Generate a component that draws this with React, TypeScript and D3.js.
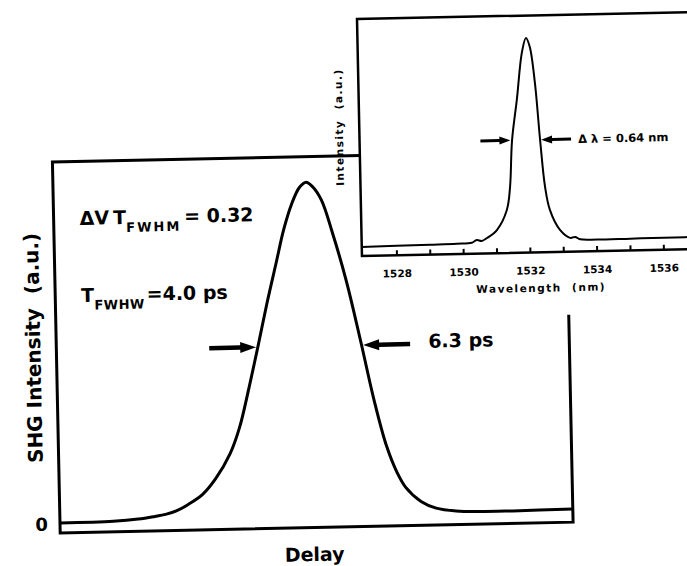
import React, { useEffect, useRef } from "react";
import * as d3 from "d3";

// autocorrelation trace: delay (ps) vs normalised SHG intensity
const delayPs = [-15.2, -12, -10.5, -9.6, -8.8, -8.2, -7.5, -6.6, -5.8, -4.9, -4.3, -3.7, -3.1, -2.5, -1.9, -1.4, -0.9, -0.4, 0, 0.4, 0.9, 1.5, 2.3, 3.1, 3.8, 4.5, 5.1, 5.6, 6.5, 7.4, 8.6, 10, 12, 15.6];
const shg = [-0.005, -0.003, 0.002, 0.008, 0.015, 0.024, 0.042, 0.072, 0.118, 0.192, 0.27, 0.385, 0.51, 0.64, 0.76, 0.86, 0.935, 0.985, 1.0, 0.985, 0.945, 0.85, 0.7, 0.515, 0.345, 0.205, 0.125, 0.08, 0.037, 0.016, 0.006, 0.003, 0.003, 0.005];

// inset: optical spectrum
const wavelengthNm = [1526.95, 1528, 1529, 1529.8, 1530.25, 1530.4, 1530.55, 1530.71, 1531.01, 1531.32, 1531.43, 1531.52, 1531.69, 1531.87, 1532.0, 1532.11, 1532.24, 1532.36, 1532.48, 1532.61, 1532.9, 1533.2, 1533.35, 1533.5, 1534, 1535, 1536, 1537.5];
const spectrum = [-0.007, -0.005, -0.003, -0.001, 0.002, 0.015, 0.01, 0.024, 0.062, 0.159, 0.27, 0.5, 0.7, 0.93, 1.0, 0.956, 0.78, 0.5, 0.268, 0.155, 0.056, 0.016, 0.02, 0.008, 0.005, 0.006, 0.007, 0.009];
const wlTicks = [1528, 1529, 1530, 1531, 1532, 1533, 1534, 1535, 1536];
const wlLabels = [1528, 1530, 1532, 1534, 1536];

const FONT = "'DejaVu Sans', Verdana, sans-serif";

const arrow = (g, tipX, tipY, dir, len, shaft, headL, headW) => {
  const b = tipX - dir * headL;
  const t = tipX - dir * len;
  const d = `M${tipX},${tipY}L${b},${tipY - headW}L${b},${tipY - shaft / 2}L${t},${tipY - shaft / 2}L${t},${tipY + shaft / 2}L${b},${tipY + shaft / 2}L${b},${tipY + headW}Z`;
  g.append("path").attr("d", d).attr("fill", "#000");
};

const App = () => {
  const svgRef = useRef(null);

  useEffect(() => {
    const svg = d3.select(svgRef.current);
    svg.selectAll("*").remove();
    // the scanned figure sits slightly askew
    const g = svg.append("g").attr("transform", "rotate(-1.2 315 330)")
      .style("font-family", FONT).style("font-weight", "bold");

    // ---- main plot
    const x = d3.scaleLinear().domain([-15.2, 15.6]).range([56, 569]);
    const y = d3.scaleLinear().domain([0, 1]).range([516, 182]);

    g.append("path")
      .attr("d", `M363.5,156.6H56V527.5H569V318`)
      .attr("fill", "none").attr("stroke", "#000").attr("stroke-width", 3);

    const line = d3.line().x((d) => x(d[0])).y((d) => y(d[1])).curve(d3.curveCatmullRom.alpha(0.5));
    g.append("path")
      .attr("d", line(delayPs.map((v, i) => [v, shg[i]])))
      .attr("fill", "none").attr("stroke", "#000").attr("stroke-width", 3);

    arrow(g, x(-3.14) - 1, y(0.5) - 3, 1, 47, 4.5, 16, 5.5);
    arrow(g, x(3.1) + 2, y(0.5) - 3, -1, 47, 4.5, 16, 5.5);

    const t1 = g.append("text").attr("x", 82).attr("y", 220).attr("font-size", 19);
    t1.append("tspan").text("ΔV");
    t1.append("tspan").attr("dx", 4).text("T");
    t1.append("tspan").attr("font-size", 13).attr("dy", 8).attr("letter-spacing", 2).text("FWHM");
    t1.append("tspan").attr("dy", -8).attr("dx", 3).text("= 0.32");

    const t2 = g.append("text").attr("x", 82).attr("y", 297).attr("font-size", 19);
    t2.append("tspan").text("T");
    t2.append("tspan").attr("font-size", 13).attr("dy", 8).attr("letter-spacing", 0.5).text("FWHW");
    t2.append("tspan").attr("dy", -8).attr("dx", 2).text("=4.0 ps");

    g.append("text").attr("x", 428).attr("y", 350).attr("font-size", 19).text("6.3 ps");

    g.append("text").attr("x", 44).attr("y", y(0) + 9).attr("font-size", 18)
      .attr("text-anchor", "end").text("0");

    g.append("text").attr("x", 310).attr("y", 561).attr("font-size", 19)
      .attr("text-anchor", "middle").text("Delay");

    g.append("text").attr("transform", "translate(40,342) rotate(-90)")
      .attr("font-size", 20).attr("text-anchor", "middle").style("white-space", "pre")
      .text("SHG Intensity  (a.u.)");

    // ---- inset spectrum
    const xi = d3.scaleLinear().domain([1528, 1536]).range([398.5, 665.5]);
    const yi = d3.scaleLinear().domain([0, 1]).range([246.5, 42.5]);
    const insetL = 363.5, insetT = 20, insetB = 257, insetR = xi(1537.5);

    g.append("rect").attr("x", insetL).attr("y", insetT)
      .attr("width", insetR - insetL).attr("height", 300).attr("fill", "#fff");
    g.append("path")
      .attr("d", `M${insetR},${insetT}H${insetL}V${insetB}H${insetR}`)
      .attr("fill", "none").attr("stroke", "#000").attr("stroke-width", 2.5);

    g.selectAll(".tick").data(wlTicks).join("line")
      .attr("x1", (d) => xi(d)).attr("x2", (d) => xi(d))
      .attr("y1", insetB).attr("y2", insetB - 5)
      .attr("stroke", "#000").attr("stroke-width", 2);
    g.selectAll(".tlab").data(wlLabels).join("text")
      .attr("x", (d) => xi(d)).attr("y", 279).attr("font-size", 10.5)
      .attr("text-anchor", "middle").text((d) => d);

    const lineIn = d3.line().x((d) => xi(d[0])).y((d) => yi(d[1])).curve(d3.curveCatmullRom.alpha(0.5));
    g.append("path")
      .attr("d", lineIn(wavelengthNm.map((v, i) => [v, spectrum[i]])))
      .attr("fill", "none").attr("stroke", "#000").attr("stroke-width", 2);

    arrow(g, xi(1531.5) - 1, yi(0.5), 1, 30, 3, 11, 4);
    arrow(g, xi(1532.36) + 1, yi(0.5), -1, 30, 3, 11, 4);

    g.append("text").attr("x", 582).attr("y", 148.5).attr("font-size", 11.5)
      .style("white-space", "pre").text("Δ λ = 0.64 nm");

    g.append("text").attr("x", 542).attr("y", 296.5).attr("font-size", 10.5)
      .attr("text-anchor", "middle").attr("letter-spacing", 1.5).style("white-space", "pre")
      .text("Wavelength  (nm)");

    g.append("text").attr("transform", "translate(347,127.6) rotate(-90)")
      .attr("font-size", 10.5).attr("text-anchor", "middle").attr("letter-spacing", 1.5)
      .style("white-space", "pre").text("Intensity  (a.u.)");
  }, []);

  return (
    <svg
      ref={svgRef}
      width={687}
      height={566}
      style={{ position: "absolute", left: 0, top: 0, background: "#fff" }}
    ></svg>
  );
};

export default App;
